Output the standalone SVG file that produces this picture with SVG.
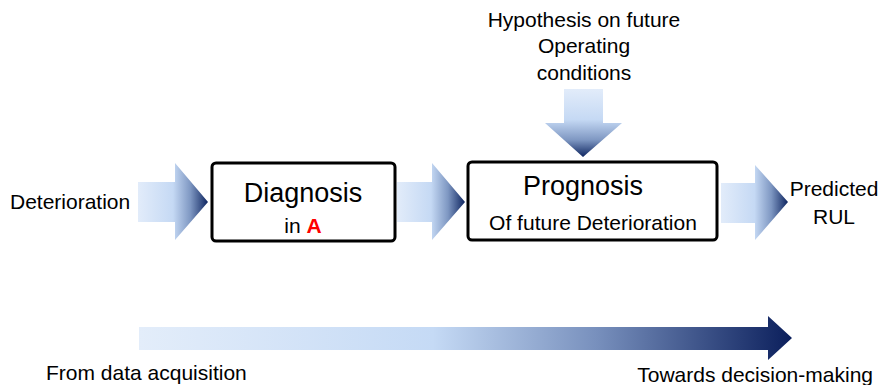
<svg xmlns="http://www.w3.org/2000/svg" width="880" height="385" viewBox="0 0 880 385">
<defs>
<linearGradient id="gh" x1="0" y1="0" x2="1" y2="0">
<stop offset="0" stop-color="#e2ecfa"/>
<stop offset="0.5" stop-color="#c5d9f4"/>
<stop offset="0.75" stop-color="#7e97c2"/>
<stop offset="1" stop-color="#0e2560"/>
</linearGradient>
<linearGradient id="gv" x1="0" y1="0" x2="0" y2="1">
<stop offset="0" stop-color="#e2ecfa"/>
<stop offset="0.45" stop-color="#c5d9f4"/>
<stop offset="0.75" stop-color="#7e97c2"/>
<stop offset="1" stop-color="#0e2560"/>
</linearGradient>
<linearGradient id="gb" x1="0" y1="0" x2="1" y2="0">
<stop offset="0" stop-color="#e3edfa"/>
<stop offset="0.45" stop-color="#c5daf5"/>
<stop offset="0.7" stop-color="#7890bd"/>
<stop offset="1" stop-color="#0b1f5c"/>
</linearGradient>
</defs>
<style>
text{font-family:"Liberation Sans",Arial,sans-serif;fill:#000}
.t{font-size:21px}
.big{font-size:27px}
.box{fill:#fff;stroke:#000;stroke-width:3}
</style>
<g id="connectors">
<polygon points="138,182 175,182 175,163 208,202 175,240 175,222 138,222" fill="url(#gh)"/>
<polygon points="397,182 432,182 432,163 465,202 432,240 432,222 397,222" fill="url(#gh)"/>
<polygon points="721,183 755,183 755,165 788,202 755,240 755,223 721,223" fill="url(#gh)"/>
<polygon points="564,89 603,89 603,123 622,123 583,157 545,123 564,123" fill="url(#gv)"/>
<polygon points="139,327 768,327 768,316 792,338 768,360 768,350 139,350" fill="url(#gb)"/>
</g>
<g id="deterioration"><text class="t" x="10" y="209">Deterioration</text></g>
<g id="diagnosis">
<rect class="box" x="212" y="163" width="183" height="78" rx="4"/>
<text class="big" x="303" y="202" text-anchor="middle">Diagnosis</text>
<text class="t" x="303" y="233" text-anchor="middle">in <tspan fill="#ff0000" font-weight="bold">A</tspan></text>
</g>
<g id="prognosis">
<rect class="box" x="468" y="162" width="249" height="78" rx="4"/>
<text class="big" x="583" y="195" text-anchor="middle">Prognosis</text>
<text class="t" x="593" y="230" text-anchor="middle">Of future Deterioration</text>
</g>
<g id="hypothesis">
<text class="t" x="584" y="27" text-anchor="middle">Hypothesis on future</text>
<text class="t" x="584" y="53" text-anchor="middle">Operating</text>
<text class="t" x="584" y="80" text-anchor="middle">conditions</text>
</g>
<g id="rul">
<text class="t" x="834" y="196" text-anchor="middle">Predicted</text>
<text class="t" x="834" y="224" text-anchor="middle">RUL</text>
</g>
<g id="bottom">
<text class="t" x="46" y="380">From data acquisition</text>
<text class="t" x="873" y="382" text-anchor="end">Towards decision-making</text>
</g>
</svg>
